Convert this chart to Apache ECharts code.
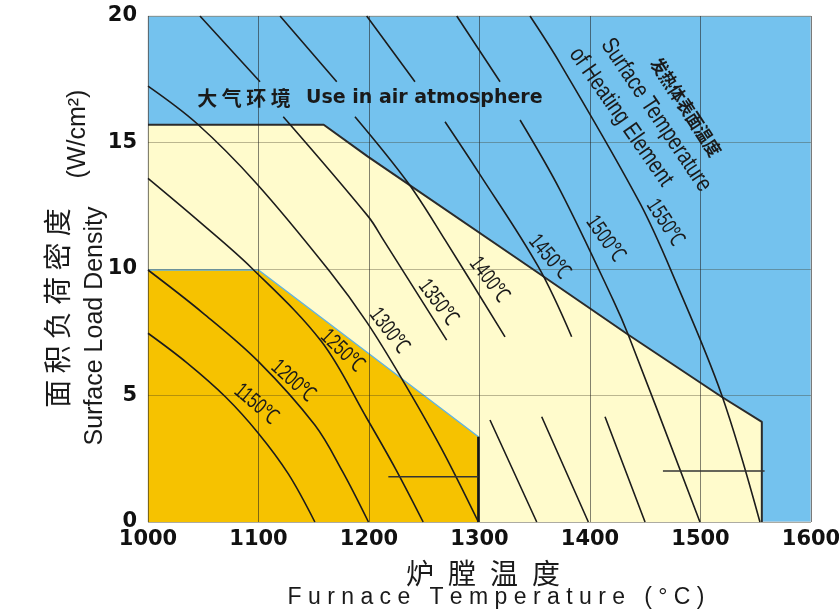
<!DOCTYPE html>
<html>
<head>
<meta charset="utf-8">
<script src="https://cdn.jsdelivr.net/npm/echarts@6/dist/echarts.min.js"></script>
<style>
  html, body { margin: 0; padding: 0; background: #fff; }
  #chart { width: 839px; height: 612px; }
</style>
</head>
<body>
<div id="chart"></div>
<script>
// axis ticks
const xTicks = [1000, 1100, 1200, 1300, 1400, 1500, 1600];
const yTicks = [0, 5, 10, 15, 20];

// zone outlines: [furnace temperature, surface load]
const airZone = [[1000, 15.7], [1159, 15.7], [1199, 14.44], [1347, 10.03], [1435, 7.39], [1519, 4.95], [1555.5, 3.96], [1555.5, 0]];
const harmfulZone = [[1000, 9.96], [1100, 9.96], [1299, 3.37], [1299, 0]];

// element surface temperature isotherms (null = gap under a text)
const curve1150 = [[1000, 7.46], [1035, 6.3], [1070, 4.95], [1100, 3.5], [1127, 1.9], [1151, 0]];
const curve1200 = [[1000, 9.96], [1050, 8.25], [1100, 6.34], [1151, 3.83], [1176, 2.0], [1199.5, 0]];
const curve1250 = [[1000, 13.58], [1047, 11.85], [1094, 10.03], [1157, 7.13], [1198, 4.1], [1224, 2.1], [1249, 0]];
const curve1300 = [[1000, 17.23], [1044, 15.76], [1098, 13.39], [1164.7, 9.89], [1198, 7.9], [1229.6, 5.67], [1265, 2.95], [1299, 0]];
const curve1350 = [[1047, 20], [1101.4, 17.4], null, [1122.4, 16.02], [1199.4, 12.07], [1213, 11.15], [1270.3, 7.19], null, [1309.5, 4.03], [1351.8, 0]];
const curve1400 = [[1119.5, 20], [1170.8, 17.4], null, [1187.3, 16.02], [1235.6, 13.39], [1268.8, 11.15], [1323.1, 7.32], null, [1356.3, 4.16], [1398.5, 0]];
const curve1450 = [[1197.9, 20], [1241.6, 17.4], null, [1268.8, 15.82], [1300, 13.76], [1353.2, 10.09], [1383.4, 7.32], null, [1413.6, 4.16], [1449.8, 0]];
const curve1500 = [[1279.4, 20], [1318.6, 17.4], null, [1336.7, 15.89], [1372.9, 13.12], [1421, 8.77], [1434.7, 7.39], [1499.5, 0]];
const curve1550 = [[1345.7, 20], [1372.9, 18.13], [1445.2, 12.6], [1476.9, 9.57], [1519.2, 5.02], [1553.8, 0]];

const isoTemps = [1150, 1200, 1250, 1300, 1350, 1400, 1450, 1500, 1550];
const isoCurves = [curve1150, curve1200, curve1250, curve1300, curve1350, curve1400, curve1450, curve1500, curve1550];
const isoLabelAt = [[1097.7, 4.66], [1131.2, 5.57], [1175.6, 6.76], [1218.1, 7.55], [1262.4, 8.68], [1308.6, 9.57], [1362.9, 10.47], [1413.6, 11.19], [1467.9, 11.82]];

// short pointer lines
const pointerA = [[1217.5, 1.79], [1299, 1.79]];
const pointerB = [[1466, 2.02], [1558, 2.02]];

// label tilt along the curves (deg)
const isoLabelTilt = [-40, -42, -44, -53, -53, -53, -50, -55, -57];

const CJK = '"Noto Sans CJK SC", sans-serif';
const SANS = '"Liberation Sans", sans-serif';
const INK = '#1a1a1a';
const DEG = Math.PI / 180;

const spaced = s => s.split('').join(' ');

const chart = echarts.init(document.getElementById('chart'));

const series = [
  {
    type: 'line', data: airZone, z: 1, silent: true, showSymbol: false,
    lineStyle: { color: '#2b2b2b', width: 2 },
    areaStyle: { color: '#FFFBCC', opacity: 1 }
  },
  {
    type: 'line', data: harmfulZone, z: 1, silent: true, showSymbol: false,
    lineStyle: { color: '#62b3e2', width: 1.5 },
    areaStyle: { color: '#F6C200', opacity: 1 }
  },
  {
    type: 'line', data: harmfulZone.slice(-2), z: 4, silent: true, showSymbol: false,
    lineStyle: { color: '#151515', width: 2.5 }
  }
];

isoCurves.forEach((c, i) => {
  series.push({
    name: isoTemps[i] + '℃', type: 'line', data: c, z: 5, silent: true,
    showSymbol: false, smooth: 0.35, connectNulls: false,
    lineStyle: { color: '#1c1c1c', width: 1.6 }
  });
});

[pointerA, pointerB].forEach(p => {
  series.push({
    type: 'line', data: p, z: 5, silent: true, showSymbol: false,
    lineStyle: { color: '#333', width: 1.5 }
  });
});

const option = {
  animation: false,
  backgroundColor: '#fff',
  grid: {
    left: 148, right: 28, top: 16, bottom: 90,
    containLabel: false, outerBoundsMode: 'none',
    show: true, backgroundColor: '#74C2EE', borderColor: '#d6d6d6', borderWidth: 1
  },
  xAxis: {
    type: 'value', min: xTicks[0], max: xTicks[xTicks.length - 1], interval: 100, z: 3,
    axisLine: { show: false }, axisTick: { show: false },
    axisLabel: {
      color: '#111', fontFamily: '"DejaVu Sans"', fontWeight: 'bold', fontSize: 21, margin: 7,
      formatter: v => String(v)
    },
    splitLine: { show: true, lineStyle: { color: 'rgba(30,30,30,0.55)', width: 1 } }
  },
  yAxis: {
    type: 'value', min: yTicks[0], max: yTicks[yTicks.length - 1], interval: 5, z: 3,
    axisLine: { show: false }, axisTick: { show: false },
    axisLabel: { color: '#111', fontFamily: '"DejaVu Sans"', fontWeight: 'bold', fontSize: 21, margin: 11 },
    splitLine: { show: true, lineStyle: { color: 'rgba(60,55,30,0.35)', width: 1 } }
  },
  series: series
};

chart.setOption(option);

// text annotations (isotherm labels placed through the chart's own scales)
const graphics = [
  // axis titles
  { type: 'text', x: 57, y: 308, rotation: 90 * DEG, style: { text: spaced('面积负荷密度'), fontFamily: CJK, fontSize: 28, fill: INK, align: 'center', verticalAlign: 'middle' } },
  { type: 'text', x: 95, y: 326, rotation: 90 * DEG, style: { text: 'Surface Load Density', fontFamily: SANS, fontSize: 25, fill: INK, align: 'center', verticalAlign: 'middle' } },
  { type: 'text', x: 78, y: 134, rotation: 90 * DEG, style: { text: '(W/cm²)', fontFamily: SANS, fontSize: 25, fill: INK, align: 'center', verticalAlign: 'middle' } },
  { type: 'text', x: 483, y: 573, style: { text: '炉\u2002膛\u2002温\u2002度', fontFamily: CJK, fontSize: 28, fill: INK, align: 'center', verticalAlign: 'middle' } },
  { type: 'text', x: 496, y: 598, style: { text: spaced('Furnace Temperature (°C)'), fontFamily: SANS, fontSize: 23, fill: INK, align: 'center', verticalAlign: 'middle' } },

  // zone captions
  { type: 'text', x: 244, y: 98, style: { text: spaced('大气环境'), fontFamily: CJK, fontWeight: 'bold', fontSize: 20, fill: INK, align: 'center', verticalAlign: 'middle' } },
  { type: 'text', x: 306, y: 98, style: { text: 'Use in air atmosphere', fontFamily: '"DejaVu Sans"', fontWeight: 'bold', fontSize: 19, fill: INK, align: 'left', verticalAlign: 'middle' } },

  { type: 'text', x: 546, y: 352, style: { text: spaced('有害气体环境'), fontFamily: CJK, fontWeight: 'bold', fontSize: 16, fill: INK, align: 'center', verticalAlign: 'middle' } },
  { type: 'text', x: 455, y: 374, style: { text: 'Use in harmful', fontFamily: '"DejaVu Sans"', fontSize: 21, fill: INK, align: 'left', verticalAlign: 'middle' } },
  { type: 'text', x: 463, y: 397, style: { text: 'atmosphere', fontFamily: '"DejaVu Sans"', fontSize: 21, fill: INK, align: 'left', verticalAlign: 'middle' } },

  { type: 'text', x: 212, y: 476, style: { text: spaced('有害气体环境'), fontFamily: CJK, fontWeight: 'bold', fontSize: 15, fill: INK, align: 'center', verticalAlign: 'middle' } },
  { type: 'text', x: 150, y: 496, style: { text: 'Use in harmful', fontFamily: '"DejaVu Sans"', fontWeight: 'bold', fontSize: 16, fill: '#2a2a2a', align: 'left', verticalAlign: 'middle' } },
  { type: 'text', x: 157, y: 514, style: { text: 'atmosphere', fontFamily: '"DejaVu Sans"', fontWeight: 'bold', fontSize: 16, fill: '#2a2a2a', align: 'left', verticalAlign: 'middle' } },

  // isotherm family caption (narrowed along the baseline)
  { type: 'text', x: 686, y: 107, rotation: -57 * DEG, scaleX: 0.9, style: { text: '发热体表面温度', fontFamily: CJK, fontWeight: 'bold', fontSize: 18, fill: INK, align: 'center', verticalAlign: 'middle' } },
  { type: 'text', x: 656, y: 115, rotation: -56 * DEG, scaleX: 0.8, style: { text: 'Surface Temperature', fontFamily: SANS, fontSize: 24, fill: INK, align: 'center', verticalAlign: 'middle' } },
  { type: 'text', x: 621, y: 117, rotation: -55 * DEG, scaleX: 0.8, style: { text: 'of Heating Element', fontFamily: SANS, fontSize: 24, fill: INK, align: 'center', verticalAlign: 'middle' } }
];

isoLabelAt.forEach((p, i) => {
  const px = chart.convertToPixel({ gridIndex: 0 }, p);
  graphics.push({
    type: 'text', x: px[0], y: px[1], z: 10, rotation: isoLabelTilt[i] * DEG, scaleX: 0.72,
    style: { text: isoTemps[i] + '℃', fontFamily: SANS, fontSize: 22, fill: INK, align: 'center', verticalAlign: 'middle' }
  });
});

chart.setOption({ graphic: graphics });
</script>
</body>
</html>
